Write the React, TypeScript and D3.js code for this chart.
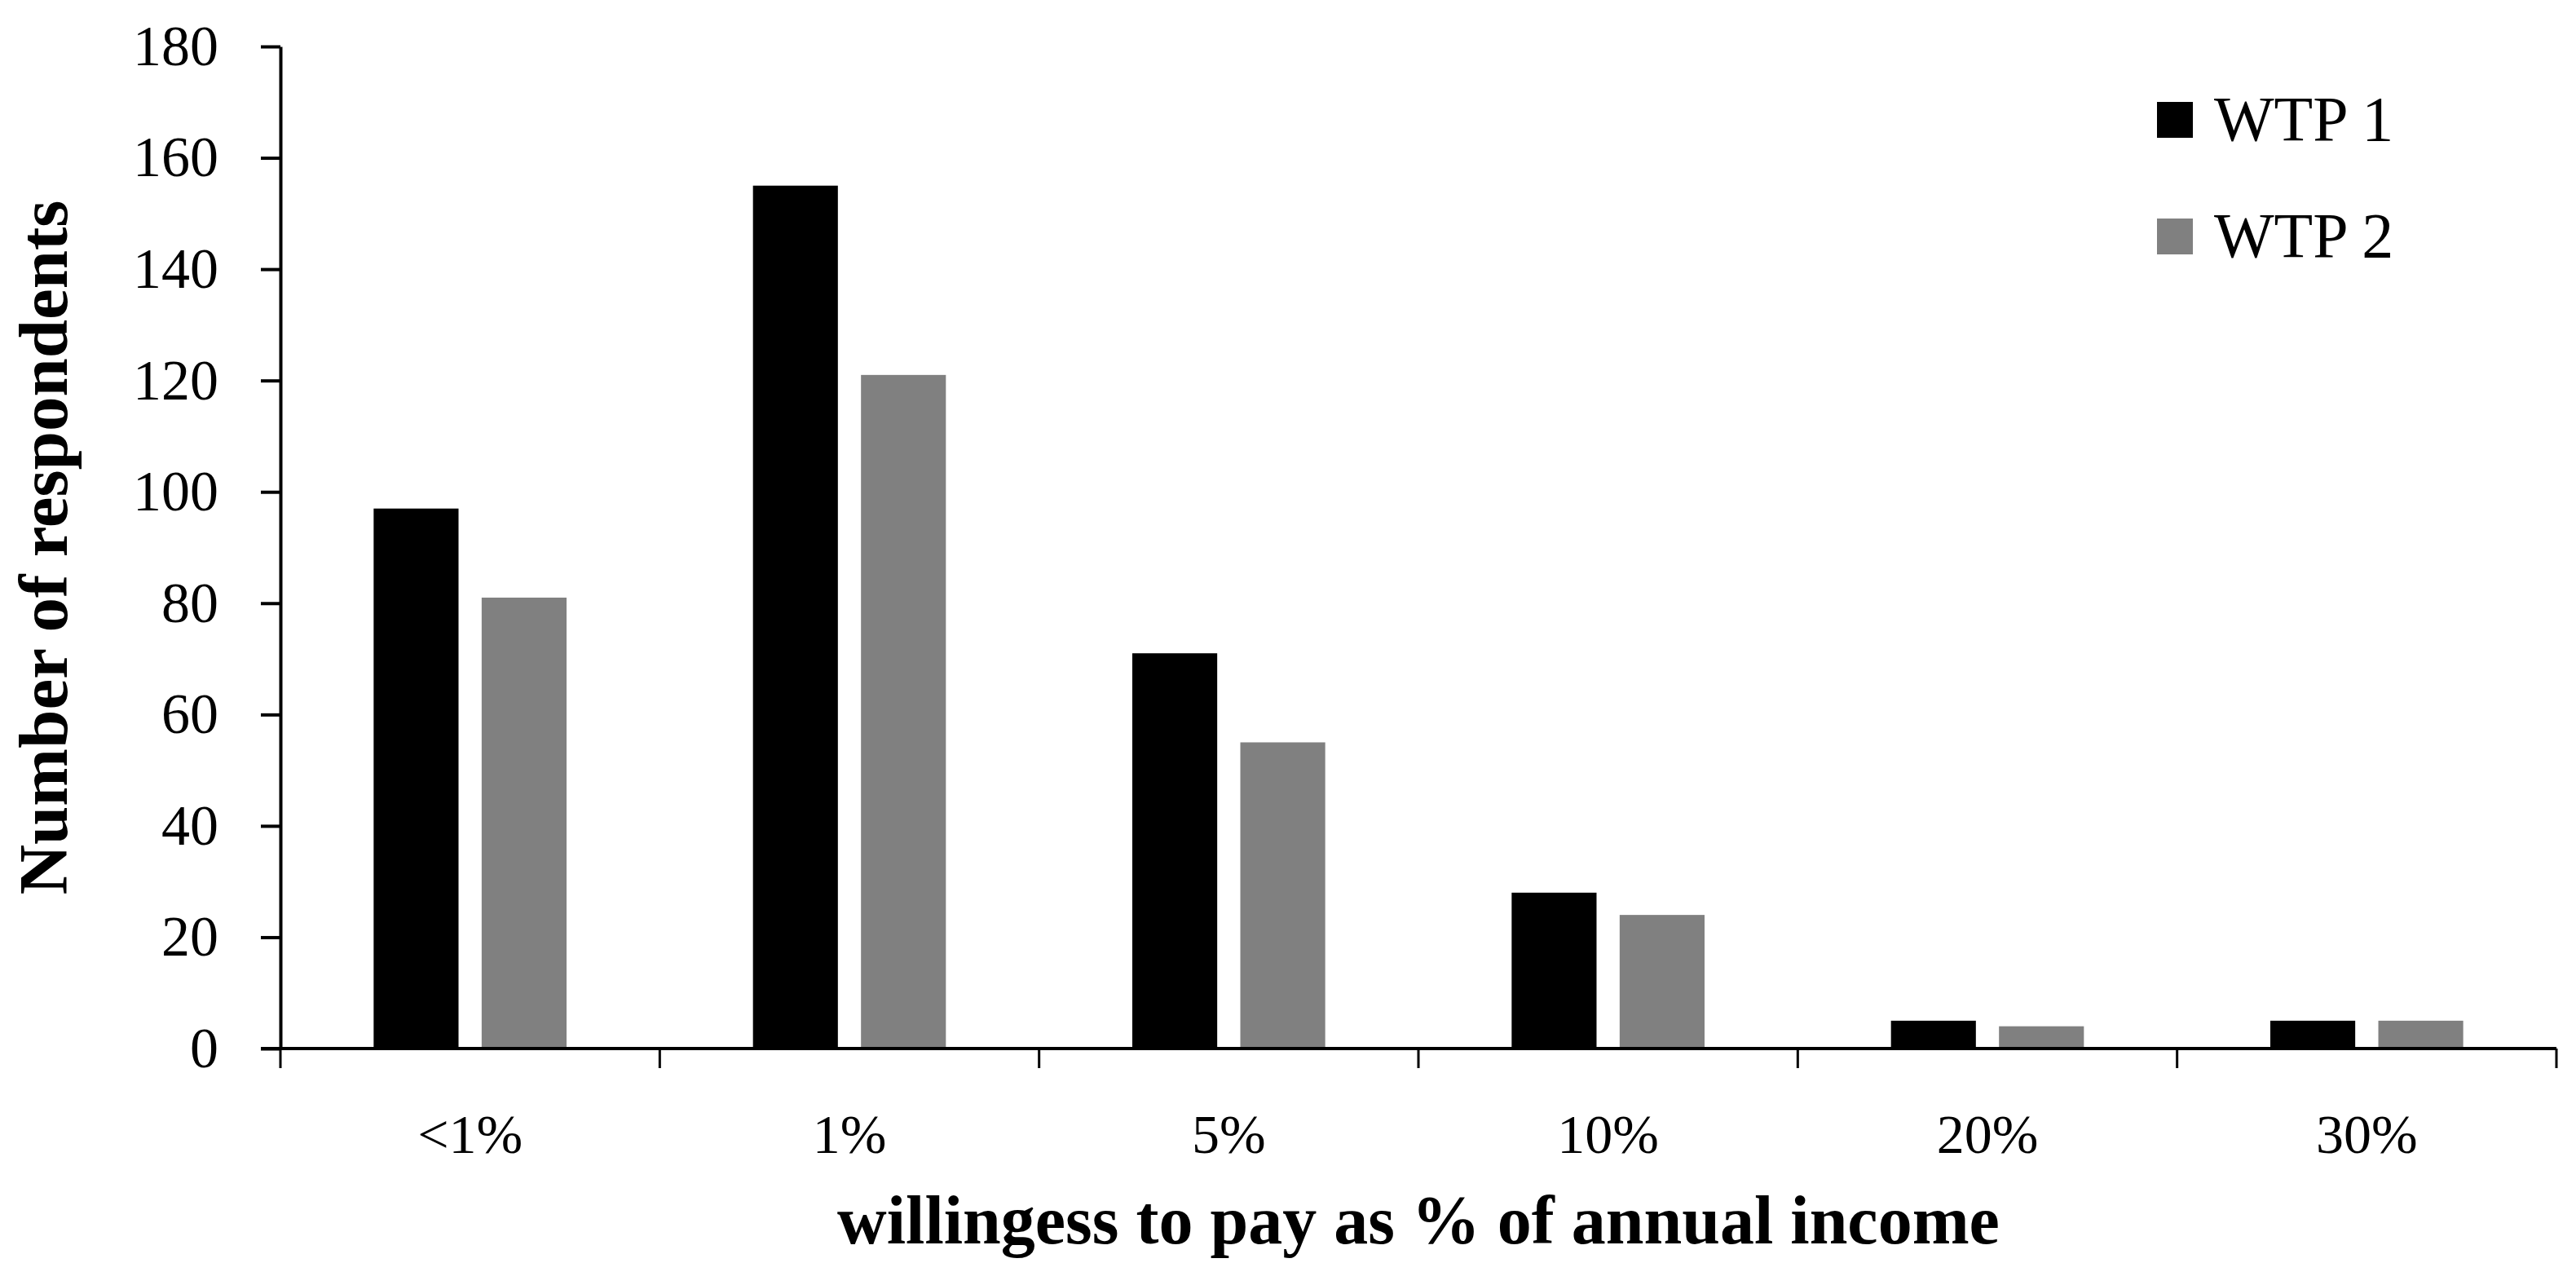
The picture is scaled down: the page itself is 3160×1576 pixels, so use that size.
import React, { useRef, useEffect } from 'react';
import * as d3 from 'd3';

// willingness-to-pay categories and counts
const categories = ['<1%', '1%', '5%', '10%', '20%', '30%'];
const seriesNames = ['WTP 1', 'WTP 2'];
const wtp1 = [97, 155, 71, 28, 5, 5];
const wtp2 = [81, 121, 55, 24, 4, 5];
const seriesColors = ['#000000', '#808080'];
const yTicks = [0, 20, 40, 60, 80, 100, 120, 140, 160, 180];

const W = 3160;
const H = 1576;
const margin = { top: 57, right: 24, bottom: 290, left: 344 };
const FONT = '"Liberation Serif", "Times New Roman", serif';

function App() {
  const svgRef = useRef(null);

  useEffect(() => {
    const svg = d3.select(svgRef.current);
    svg.selectAll('*').remove();

    const x0 = margin.left;
    const x1 = W - margin.right;
    const yBottom = H - margin.bottom;

    const x = d3.scaleBand().domain(categories).range([x0, x1]).padding(0);
    const xInner = d3.scaleBand().domain(seriesNames)
      .range([0, x.bandwidth()])
      .paddingInner(0.214)
      .paddingOuter(0.863);
    const y = d3.scaleLinear().domain([0, 180]).range([yBottom, margin.top]);

    const rows = categories.map((c, i) => ({ cat: c, values: [wtp1[i], wtp2[i]] }));

    // bars
    const groups = svg.append('g').selectAll('g').data(rows).join('g')
      .attr('transform', d => `translate(${x(d.cat)},0)`);
    groups.selectAll('rect')
      .data(d => d.values.map((v, k) => ({ name: seriesNames[k], v, k })))
      .join('rect')
      .attr('x', d => xInner(d.name))
      .attr('width', xInner.bandwidth())
      .attr('y', d => y(d.v))
      .attr('height', d => yBottom - y(d.v))
      .attr('fill', d => seriesColors[d.k]);

    // y axis
    const yAxis = svg.append('g')
      .attr('transform', `translate(${x0},0)`)
      .call(d3.axisLeft(y).tickValues(yTicks).tickSizeInner(24).tickSizeOuter(0).tickPadding(52));
    yAxis.select('.domain').attr('stroke-width', 4);
    yAxis.selectAll('.tick line').attr('stroke-width', 4);
    yAxis.selectAll('.tick text')
      .attr('font-family', FONT).attr('font-size', 70).attr('fill', '#000');

    // x axis: labels centred in bands, ticks on band edges
    const xAxis = svg.append('g')
      .attr('transform', `translate(0,${yBottom})`)
      .call(d3.axisBottom(x).tickSize(0).tickPadding(80));
    xAxis.select('.domain').remove();
    xAxis.selectAll('.tick text')
      .attr('font-family', FONT).attr('font-size', 68).attr('fill', '#000');

    svg.append('line')
      .attr('x1', x0 - 24).attr('x2', x1)
      .attr('y1', yBottom).attr('y2', yBottom)
      .attr('stroke', '#000').attr('stroke-width', 4);

    const edges = categories.map(c => x(c)).concat([x1]);
    svg.append('g').selectAll('line').data(edges).join('line')
      .attr('x1', d => d).attr('x2', d => d)
      .attr('y1', yBottom).attr('y2', yBottom + 24)
      .attr('stroke', '#000').attr('stroke-width', 3);

    // axis titles
    svg.append('text')
      .attr('transform', `translate(82,${(margin.top + yBottom) / 2}) rotate(-90)`)
      .attr('text-anchor', 'middle')
      .attr('font-family', FONT).attr('font-weight', 'bold').attr('font-size', 85)
      .text('Number of respondents');

    svg.append('text')
      .attr('x', (x0 + x1) / 2).attr('y', 1525)
      .attr('text-anchor', 'middle')
      .attr('font-family', FONT).attr('font-weight', 'bold').attr('font-size', 84)
      .text('willingess to pay as % of annual income');

    // legend
    const legend = svg.append('g').attr('transform', 'translate(2646,125)');
    const items = legend.selectAll('g').data(seriesNames).join('g')
      .attr('transform', (d, i) => `translate(0,${i * 143})`);
    items.append('rect').attr('width', 44).attr('height', 44)
      .attr('fill', (d, i) => seriesColors[i]);
    items.append('text').attr('x', 70).attr('y', 47)
      .attr('font-family', FONT).attr('font-size', 78)
      .text(d => d);
  }, []);

  return (
    <svg ref={svgRef} width={W} height={H}
      style={{ position: 'absolute', left: 0, top: 0, background: '#fff' }} />
  );
}

export default App;
